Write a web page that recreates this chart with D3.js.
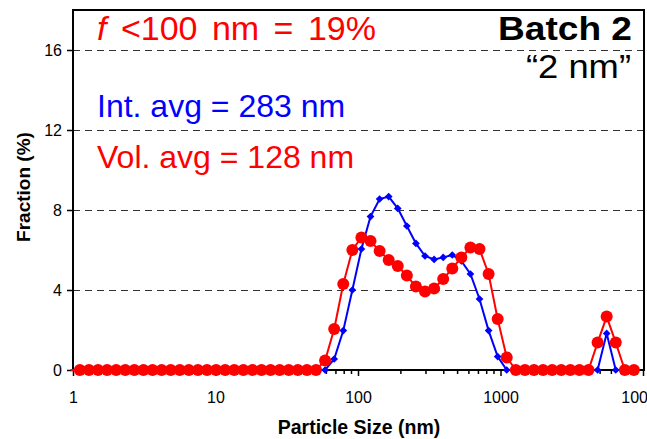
<!DOCTYPE html>
<html>
<head>
<meta charset="utf-8">
<script src="https://cdn.jsdelivr.net/npm/d3@7"></script>
<style>
  html, body { margin: 0; padding: 0; background: #fff; }
  svg { display: block; }
  text { font-family: "Liberation Sans", Arial, sans-serif; }
</style>
</head>
<body>
<svg id="chart" width="647" height="439"></svg>
<script>
// Particle size bins (nm)
const sizes = [0.9649, 1.117, 1.294, 1.499, 1.736, 2.010, 2.328, 2.696, 3.122, 3.615,
  4.187, 4.849, 5.615, 6.503, 7.531, 8.721, 10.10, 11.70, 13.54, 15.69,
  18.17, 21.04, 24.36, 28.21, 32.67, 37.84, 43.82, 50.75, 58.77, 68.06,
  78.82, 91.28, 105.7, 122.4, 141.8, 164.2, 190.1, 220.2, 255.0, 295.3,
  342.0, 396.1, 458.7, 531.2, 615.1, 712.4, 825.0, 955.4, 1106, 1281,
  1484, 1718, 1990, 2305, 2669, 3091, 3580, 4145, 4801, 5560,
  6439, 7456, 8635];
// Intensity distribution (blue, %)
const intensity = [0, 0, 0, 0, 0, 0, 0, 0, 0, 0,
  0, 0, 0, 0, 0, 0, 0, 0, 0, 0,
  0, 0, 0, 0, 0, 0, 0, 0, 0, 0.55,
  1.97, 4.0, 6.05, 7.67, 8.55, 8.67, 8.08, 7.2, 6.33, 5.7,
  5.53, 5.63, 5.75, 5.45, 4.8, 3.55, 1.97, 0.67, 0, 0,
  0, 0, 0, 0, 0, 0, 0, 0, 0, 1.83,
  0, 0, 0];
// Volume distribution (red, %)
const volume = [0, 0, 0, 0, 0, 0, 0, 0, 0, 0,
  0, 0, 0, 0, 0, 0, 0, 0, 0, 0,
  0, 0, 0, 0, 0, 0, 0, 0, 0.47, 2.05,
  4.3, 6.0, 6.63, 6.45, 5.95, 5.5, 5.2, 4.72, 4.17, 3.92,
  4.08, 4.55, 5.08, 5.63, 6.12, 6.05, 4.8, 2.55, 0.63, 0,
  0, 0, 0, 0, 0, 0, 0, 0, 1.37, 2.67,
  1.37, 0, 0];
const xTicks = [1, 10, 100, 1000, 10000];
const xTickLabels = ["1", "10", "100", "1000", "10000"];
const yTicks = [0, 4, 8, 12, 16];
const yTickLabels = ["0", "4", "8", "12", "16"];

const svg = d3.select("#chart");
const L = 73, R = 644, T = 10, B = 370;
const x = d3.scaleLog().domain([1, 10000]).range([L, 643]);
const y = d3.scaleLinear().domain([0, 18]).range([B, T]);

// gridlines
svg.append("g").selectAll("line").data(yTicks.filter(d => d > 0)).join("line")
  .attr("x1", L).attr("x2", R).attr("y1", d => y(d) + 0.5).attr("y2", d => y(d) + 0.5)
  .attr("stroke", "#333").attr("stroke-width", 1).attr("stroke-dasharray", "7,5")
  .attr("shape-rendering", "crispEdges");

// y axis
const yAxis = d3.axisLeft(y).tickValues(yTicks).tickFormat((d, i) => yTickLabels[i])
  .tickSize(6).tickPadding(5);
const gy = svg.append("g").attr("transform", `translate(${L},0)`).call(yAxis);
gy.select(".domain").remove();
gy.selectAll("line").attr("stroke", "#000").attr("stroke-width", 1.5);
gy.selectAll("text").attr("font-size", 16).attr("fill", "#000")
  .style("font-family", '"Liberation Sans", Arial, sans-serif');

// x axis major
const xAxis = d3.axisBottom(x).tickValues(xTicks).tickFormat((d, i) => xTickLabels[i])
  .tickSize(6).tickPadding(16);
const gx = svg.append("g").attr("transform", `translate(0,${B})`).call(xAxis);
gx.select(".domain").remove();
gx.selectAll("line").attr("stroke", "#000").attr("stroke-width", 1.5);
gx.selectAll("text").attr("font-size", 16).attr("fill", "#000")
  .style("font-family", '"Liberation Sans", Arial, sans-serif');
// x minor ticks
const minor = [];
for (let k = 0; k < 4; k++) for (let m = 2; m <= 9; m++) minor.push(m * Math.pow(10, k));
svg.append("g").selectAll("line").data(minor).join("line")
  .attr("x1", d => x(d)).attr("x2", d => x(d)).attr("y1", B).attr("y2", B + 4)
  .attr("stroke", "#000").attr("stroke-width", 1.5);

// plot border
svg.append("rect").attr("x", L).attr("y", T).attr("width", R - L).attr("height", B - T)
  .attr("fill", "none").attr("stroke", "#000").attr("stroke-width", 2);

// clip for lines
svg.append("clipPath").attr("id", "clip").append("rect")
  .attr("x", 66).attr("y", 0).attr("width", R - 66).attr("height", 439);

const line = d3.line().x(d => x(d[0])).y(d => y(d[1]));
const blueData = sizes.map((s, i) => [s, intensity[i]]);
const redData = sizes.map((s, i) => [s, volume[i]]);

// blue series
svg.append("path").datum(blueData).attr("d", line).attr("clip-path", "url(#clip)")
  .attr("fill", "none").attr("stroke", "#0000FF").attr("stroke-width", 2);
const diamond = d3.symbol().type(d3.symbolSquare).size(30);
svg.append("g").selectAll("path").data(blueData.filter(d => d[0] >= 1)).join("path")
  .attr("d", diamond)
  .attr("transform", d => `translate(${x(d[0])},${y(d[1])}) rotate(45)`)
  .attr("fill", "#0000FF");

// red series
svg.append("path").datum(redData).attr("d", line).attr("clip-path", "url(#clip)")
  .attr("fill", "none").attr("stroke", "#FF0000").attr("stroke-width", 2);
svg.append("g").selectAll("circle").data(redData.filter(d => d[0] >= 1)).join("circle")
  .attr("cx", d => x(d[0])).attr("cy", d => y(d[1])).attr("r", 6)
  .attr("fill", "#FF0000");

// axis titles
svg.append("text").attr("x", 359).attr("y", 434).attr("text-anchor", "middle")
  .attr("font-size", 19.5).attr("font-weight", "bold").text("Particle Size (nm)");
svg.append("text").attr("transform", "translate(30,187) rotate(-90)").attr("text-anchor", "middle")
  .attr("font-size", 19).attr("font-weight", "bold").text("Fraction (%)");

// annotations
const t1 = svg.append("text").attr("x", 97).attr("y", 40).attr("font-size", 34)
  .attr("word-spacing", 5).attr("fill", "#FF0000");
t1.append("tspan").attr("font-style", "italic").text("f");
t1.append("tspan").text(" <100 nm = 19%");
svg.append("text").attr("x", 498).attr("y", 40)
  .attr("font-size", 34).attr("font-weight", "bold").attr("fill", "#000")
  .attr("textLength", 134).attr("lengthAdjust", "spacingAndGlyphs").text("Batch 2");
svg.append("text").attr("x", 526).attr("y", 78)
  .attr("font-size", 33).attr("fill", "#000")
  .attr("textLength", 105).attr("lengthAdjust", "spacingAndGlyphs").text("\u201C2 nm\u201D");
svg.append("text").attr("x", 97).attr("y", 117).attr("font-size", 32)
  .attr("fill", "#0000FF").text("Int. avg = 283 nm");
svg.append("text").attr("x", 97).attr("y", 168).attr("font-size", 32)
  .attr("fill", "#FF0000").text("Vol. avg = 128 nm");
</script>
</body>
</html>
